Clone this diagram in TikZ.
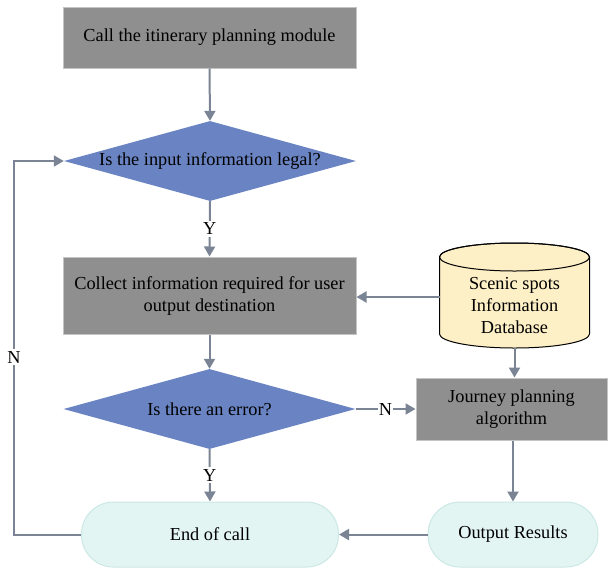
\documentclass[tikz,border=0pt]{standalone}
\usepackage{fontspec}
\setmainfont{Liberation Serif}
\usetikzlibrary{shapes.geometric,arrows.meta}
\definecolor{boxgray}{HTML}{8F8F8F}
\definecolor{boxedge}{HTML}{C4C4C4}
\definecolor{decblue}{HTML}{6A84C3}
\definecolor{dbfill}{HTML}{FDEFC6}
\definecolor{endfill}{HTML}{E2F5F3}
\definecolor{endedge}{HTML}{CBE8E4}
\definecolor{arrcol}{HTML}{7B8494}
\tikzset{
  every node/.style={font=\fontsize{18.3}{22}\selectfont, text=black},
  procbox/.style={rectangle, fill=boxgray, draw=boxedge, line width=1pt, align=center, inner sep=0pt},
  decision/.style={diamond, fill=decblue, draw=none, inner sep=0pt, aspect=3.65, minimum width=292pt, minimum height=80pt},
  termbox/.style={rectangle, rounded corners=32pt, fill=endfill, draw=endedge, line width=1pt, minimum height=65pt, inner sep=0pt},
  arr/.style={draw=arrcol, line width=2pt, -{Triangle[length=10pt,width=11pt]}},
  plainline/.style={draw=arrcol, line width=2pt},
  lbl/.style={fill=white, inner sep=2pt}
}
\begin{document}
\begin{tikzpicture}[x=1pt,y=-1pt]
\useasboundingbox (0,0) rectangle (609,571);
\node[procbox, minimum width=293pt, minimum height=61pt] (b1) at (209.5,37.5) {Call the itinerary planning module};
\node[decision] (d1) at (210,161) {Is the input information legal?};
\node[procbox, minimum width=293pt, minimum height=77pt] (b2) at (209.5,295.5) {Collect information required for user\\output destination};
\node[decision] (d2) at (209.5,409) {Is there an error?};
% database cylinder
\node[minimum width=150pt, minimum height=105pt, inner sep=0pt] (db) at (514.5,295.5) {};
\path[fill=dbfill, draw=black, line width=1pt] (439.5,257) -- (439.5,334) arc[start angle=180, end angle=360, x radius=75pt, y radius=14pt] -- (589.5,257) arc[start angle=0, end angle=180, x radius=75pt, y radius=14pt] -- cycle;
\draw[line width=1pt] (514.5,257) ellipse [x radius=75pt, y radius=14pt];
\node[align=center] (dbtext) at (514.5,306) {Scenic spots\\Information\\Database};
\node[procbox, minimum width=191pt, minimum height=62pt] (jp) at (511.5,409) {Journey planning\\algorithm};
\node[termbox, minimum width=257pt] (end) at (210,534.5) {End of call};
\node[termbox, minimum width=170pt] (out) at (513,534.5) {Output Results};
\coordinate (dbbottom) at (514.5,348);
\coordinate (dbleft) at (439.5,297);
\coordinate (lc) at (14,161);
% connectors
\draw[arr] (b1.south) -- (d1.north);
\draw[arr] (d1.south) -- node[lbl] {Y} (b2.north);
\draw[arr] (dbleft) -- (b2.east |- dbleft);
\draw[arr] (dbbottom) -- (dbbottom |- jp.north);
\draw[arr] (b2.south) -- (d2.north);
\draw[arr] (d2.east) -- node[lbl, inner sep=1pt, pos=0.5] {N} (jp.west);
\draw[arr] (d2.south) -- node[lbl] {Y} (end.north);
\draw[arr] (jp.south -| out.north) -- (out.north);
\draw[arr] (out.west) -- (end.east);
\draw[arr] (end.west) -| (lc) -- (d1.west);
\node[lbl] (nlbl) at (14,357) {N};
\end{tikzpicture}
\end{document}
